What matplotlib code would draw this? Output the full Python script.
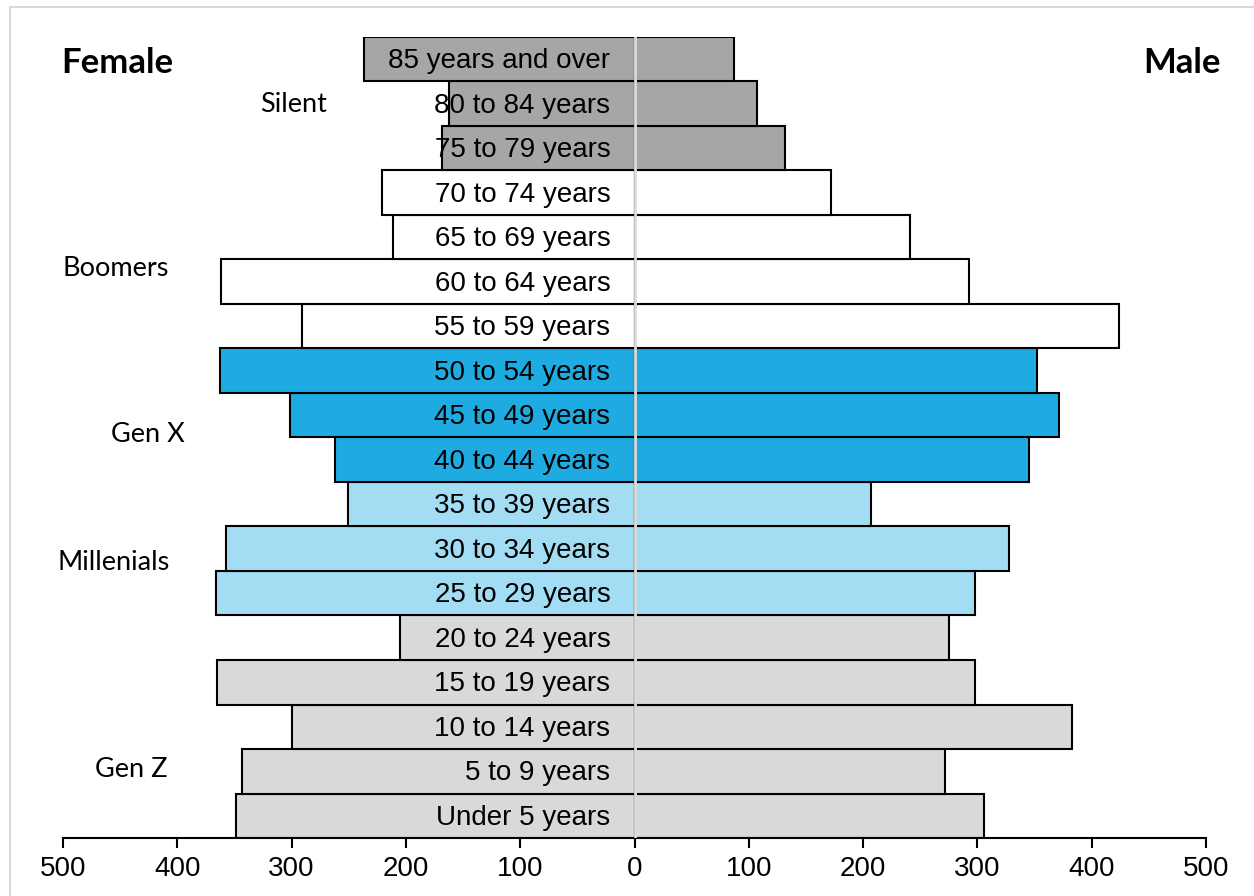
import matplotlib
matplotlib.use("Agg")
import matplotlib.pyplot as plt
from matplotlib.patches import Rectangle
from matplotlib.transforms import offset_copy

# ---- data (bottom to top) ----
age_groups = ["Under 5 years", "5 to 9 years", "10 to 14 years", "15 to 19 years",
              "20 to 24 years", "25 to 29 years", "30 to 34 years", "35 to 39 years",
              "40 to 44 years", "45 to 49 years", "50 to 54 years", "55 to 59 years",
              "60 to 64 years", "65 to 69 years", "70 to 74 years", "75 to 79 years",
              "80 to 84 years", "85 years and over"]
female = [349, 343, 300, 365, 205, 366, 357, 251, 262, 301, 363, 291, 362, 211, 221, 168, 162, 237]
male = [306, 272, 383, 298, 275, 298, 328, 207, 345, 371, 352, 424, 293, 241, 172, 132, 107, 87]
generation = ["Gen Z"] * 5 + ["Millenials"] * 3 + ["Gen X"] * 3 + ["Boomers"] * 4 + ["Silent"] * 3
gen_colors = {"Gen Z": "#d9d9d9", "Millenials": "#a3ddf3", "Gen X": "#1eabe2",
              "Boomers": "#ffffff", "Silent": "#a6a6a6"}
x_ticks = [-500, -400, -300, -200, -100, 0, 100, 200, 300, 400, 500]
x_tick_labels = ["500", "400", "300", "200", "100", "0", "100", "200", "300", "400", "500"]

W, H = 1254, 896
fig = plt.figure(figsize=(W / 100, H / 100), dpi=100)
ax = fig.add_axes([63 / W, 1 - 838 / H, (1206 - 63) / W, (838 - 37) / H])

ypos = list(range(len(age_groups)))
colors = [gen_colors[g] for g in generation]
ax.barh(ypos, [-v for v in female], height=1.0, color=colors, edgecolor="black", linewidth=1.5, zorder=2)
ax.barh(ypos, male, height=1.0, color=colors, edgecolor="black", linewidth=1.5, zorder=2)
ax.axvline(0, color="#dcdcdc", linewidth=2, zorder=3)

lab_tr = offset_copy(ax.transData, fig=fig, x=0, y=-1.5, units="points")
for y, lab in zip(ypos, age_groups):
    ax.text(-21, y, lab, ha="right", va="center", fontsize=20, transform=lab_tr,
            family=["Liberation Sans", "DejaVu Sans"], zorder=4)

ax.set_xlim(-500, 500)
ax.set_ylim(-0.5, len(age_groups) - 0.5)
ax.set_xticks(x_ticks)
ax.set_xticklabels(x_tick_labels, fontsize=20, family="Liberation Sans")
ax.set_yticks([])
for s in ["left", "right", "top"]:
    ax.spines[s].set_visible(False)
ax.spines["bottom"].set_linewidth(1.5)
ax.tick_params(axis="x", length=7, width=1.5, pad=6)

# generation labels (figure pixel positions)
gen_label_pos = {"Silent": (294, 104), "Boomers": (116, 268), "Gen X": (148, 435),
                 "Millenials": (114, 562), "Gen Z": (131, 769)}
for name, (px, py) in gen_label_pos.items():
    fig.text(px / W, 1 - py / H, name, ha="center", va="center", fontsize=19.5, family="Lato")

fig.text(117 / W, 1 - 63 / H, "Female", ha="center", va="center", fontsize=25,
         fontweight="bold", family="Lato")
fig.text(1182 / W, 1 - 63 / H, "Male", ha="center", va="center", fontsize=25,
         fontweight="bold", family="Lato")

# light frame
fig.patches.append(Rectangle((10 / W, -0.1), 1.2, 1 - 7 / H + 0.1, transform=fig.transFigure,
                             fill=False, edgecolor="#d9d9d9", linewidth=1.5))

fig.savefig("out.png", dpi=100)
